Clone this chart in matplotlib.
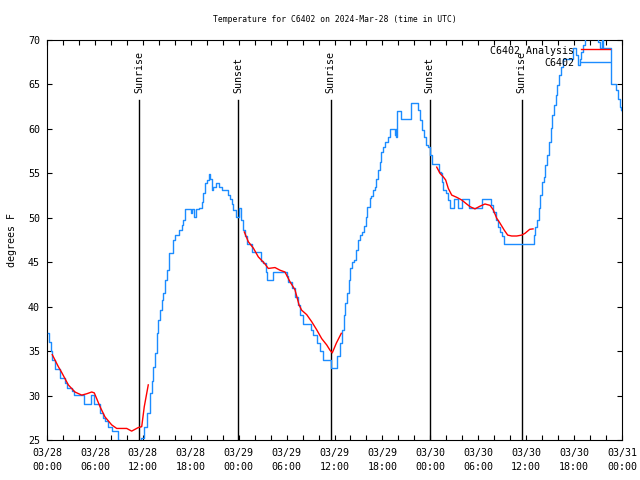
import numpy as np
import matplotlib
matplotlib.use("Agg")
import matplotlib.pyplot as plt
from matplotlib.ticker import MultipleLocator, FixedLocator

# ---- data (hours since 2024-03-28 00:00 UTC) ----
blue_t = [0.16, 0.31, 0.5, 0.66, 1.0, 1.63, 2.25, 2.47, 3.09, 3.42, 4.67, 5.47, 5.89, 6.64, 6.95, 7.26,
          7.64, 8.1, 8.93, 9.14, 9.5, 11.0, 11.6, 11.77, 12.15, 12.48, 12.9, 13.11, 13.31, 13.52, 13.74,
          13.94, 14.15, 14.36, 14.56, 14.77, 14.99, 15.31, 15.82, 16.03, 16.57, 16.87, 16.99, 17.28,
          17.99, 18.2, 18.4, 18.6, 19.07, 19.37, 19.57, 19.78, 20.0, 20.29, 20.41, 20.62, 20.83, 21.16,
          21.58, 21.88, 22.7, 22.92, 23.13, 23.33, 23.63, 24.04, 24.29, 24.58, 24.79, 25.08, 25.71,
          26.8, 27.09, 27.39, 27.59, 28.34, 30.02, 30.22, 30.64, 31.05, 31.39, 31.68, 32.09, 33.06,
          33.35, 33.77, 34.18, 34.6, 35.56, 36.31, 36.65, 36.94, 37.15, 37.35, 37.57, 37.78, 37.98,
          38.19, 38.44, 38.73, 38.94, 39.16, 39.44, 39.69, 39.91, 40.11, 40.41, 40.61, 40.82, 41.03,
          41.23, 41.45, 41.66, 41.86, 42.07, 42.36, 42.7, 42.99, 43.54, 43.66, 43.74, 43.86, 44.37,
          45.62, 46.46, 46.67, 46.96, 47.21, 47.5, 47.75, 47.96, 48.25, 49.09, 49.34, 49.5, 49.62,
          49.92, 50.18, 50.46, 51.0, 51.51, 52.0, 52.88, 54.43, 55.6, 55.88, 56.18, 56.43, 56.72,
          57.01, 57.22, 60.98, 61.14, 61.4, 61.57, 61.77, 61.98, 62.23, 62.4, 62.65, 62.86, 63.07,
          63.27, 63.49, 63.7, 63.9, 64.11, 64.33, 64.61, 65.87, 66.28, 66.49, 66.71, 66.91, 67.12,
          67.33, 68.0, 69.0, 69.2, 69.45, 69.62, 70.59, 71.29, 71.5, 71.71, 71.84, 72.0]
blue_T = [37.0, 36.0, 35.0, 34.0, 33.0, 32.0, 31.4, 30.9, 30.5, 30.1, 29.05, 30.1, 29.05, 28.0, 27.5, 27.1,
          26.5, 26.0, 25.0, 24.5, 24.0, 23.8, 24.5, 25.2, 26.5, 28.0, 30.25, 31.6, 33.25, 34.75, 37.0,
          38.5, 39.6, 40.75, 41.5, 43.0, 44.1, 46.0, 47.5, 48.06, 48.6, 49.2, 49.75, 50.95,
          50.5, 50.95, 50.1, 50.95, 51.1, 51.8, 52.75, 53.9, 54.25, 54.9, 54.4, 53.1, 53.5, 53.95,
          53.5, 53.1, 52.6, 52.1, 51.6, 50.9, 50.1, 51.05, 49.75, 48.6, 47.9, 47.05, 46.1,
          45.1, 44.9, 43.9, 43.0, 43.9, 43.4, 42.8, 42.05, 41.1, 40.2, 39.1, 38.05, 37.4,
          36.8, 35.9, 35.05, 34.0, 33.05, 34.4, 35.9, 37.4, 39.1, 40.4, 41.5, 43.0, 44.3,
          45.05, 45.25, 46.4, 47.5, 48.06, 48.4, 49.1, 50.1, 51.25, 52.2, 52.45, 53.1, 53.5,
          54.4, 55.4, 56.3, 57.4, 58.0, 58.55, 59.05, 59.95, 59.3, 59.95, 59.05, 62.05, 61.1,
          62.95, 62.1, 61.0, 59.9, 59.1, 58.2, 58.0, 57.1, 56.05, 55.2, 55.0, 54.05, 53.1,
          52.75, 52.0, 51.05, 52.1, 51.05, 52.1, 51.05, 52.1, 51.4, 50.7, 49.75, 49.0, 48.4,
          47.9, 47.05, 48.06, 49.0, 49.75, 51.05, 52.55, 54.05, 54.6, 55.9, 57.05, 58.55, 60.05,
          61.55, 62.7, 63.8, 64.9, 66.05, 67.0, 67.9, 69.05, 68.3, 67.2, 67.9, 68.7, 69.4,
          70.5, 71.0, 69.8, 69.05, 70.3, 69.05, 65.0, 64.4, 63.4, 62.5, 62.1, 62.0]

red_t = [0.66, 1.42, 1.84, 2.67, 3.5, 4.35, 4.97, 5.6, 5.92, 6.64, 7.26, 8.1, 8.73, 9.98, 10.6, 11.43,
         11.86, 12.18, 12.68, np.nan,
         24.71, 25.21, 25.83, 26.46, 27.3, 27.71, 28.55, 29.18, 29.8, 30.43, 31.05, 31.56, 31.89,
         32.52, 33.15, 33.77, 34.4, 35.02, 35.44, 35.72, 36.23, 36.85, np.nan,
         48.8, 49.21, 49.62, 49.92, 50.25, 50.68, 51.31, 51.93, 52.34, 52.97, 53.59, 54.21, 54.84,
         55.47, 55.88, 56.31, 56.72, 57.26, 57.69, 58.19, 58.82, 59.44, 59.85, 60.44, 60.86]
red_T = [34.6, 33.25, 32.6, 31.2, 30.4, 30.05, 30.2, 30.4, 30.3, 28.75, 27.6, 26.7, 26.3, 26.3, 26.0, 26.4,
         26.5, 28.75, 31.2, np.nan,
         48.4, 47.3, 46.6, 45.6, 44.8, 44.3, 44.4, 44.1, 43.9, 42.8, 41.9, 40.2, 39.6,
         39.1, 38.3, 37.4, 36.4, 35.7, 35.1, 34.8, 35.9, 37.0, np.nan,
         55.7, 55.0, 54.6, 54.25, 53.3, 52.55, 52.3, 52.0, 51.7, 51.25, 51.0, 51.3, 51.55,
         51.4, 50.9, 49.95, 49.4, 48.6, 48.05, 47.95, 47.95, 48.05, 48.25, 48.7, 48.75]

sun_t = [11.55, 23.95, 35.5, 47.9, 59.45]
sun_lbl = ["Sunrise", "Sunset", "Sunrise", "Sunset", "Sunrise"]

xtick_labels = ["03/28\n00:00", "03/28\n06:00", "03/28\n12:00", "03/28\n18:00", "03/29\n00:00",
                "03/29\n06:00", "03/29\n12:00", "03/29\n18:00", "03/30\n00:00", "03/30\n06:00",
                "03/30\n12:00", "03/30\n18:00", "03/31\n00:00"]

BLUE = "#1C8CFF"
RED = "#FF0000"
FONT = "DejaVu Sans Mono"

fig = plt.figure(figsize=(6.4, 4.8), dpi=100)
ax = fig.add_axes([47/640, 40/480, 575/640, 400/480])

ax.plot(blue_t, blue_T, color=BLUE, lw=1.0, drawstyle="steps-post", zorder=3)
ax.plot(red_t, red_T, color=RED, lw=1.0, zorder=4)

for t, lab in zip(sun_t, sun_lbl):
    ax.plot([t, t], [25, 63.25], color="black", lw=1.0, zorder=2)
    ax.text(t, 64.0, lab, rotation=90, ha="center", va="bottom", fontsize=7.2,
            family=FONT, zorder=5)

ax.set_xlim(0, 72)
ax.set_ylim(25, 70)
ax.xaxis.set_major_locator(FixedLocator(np.arange(0, 73, 6)))
ax.set_xticklabels(xtick_labels, family=FONT, fontsize=7.2, linespacing=1.5)
ax.xaxis.set_minor_locator(MultipleLocator(2))
ax.yaxis.set_major_locator(MultipleLocator(5))
for lab in ax.get_yticklabels():
    lab.set_family(FONT)
    lab.set_fontsize(7.2)
ax.tick_params(axis="both", which="both", direction="in", top=True, right=True,
               length=3.5, width=0.8, color="black")
ax.tick_params(axis="x", which="major", pad=6)
ax.tick_params(axis="y", which="major", pad=5)
for s in ax.spines.values():
    s.set_linewidth(0.8)

# legend (gnuplot style, no box)
ax.text(0.9165, 0.973, "C6402 Analysis", transform=ax.transAxes, ha="right", va="center",
        fontsize=7.2, family=FONT, zorder=6)
ax.text(0.9165, 0.942, "C6402", transform=ax.transAxes, ha="right", va="center",
        fontsize=7.2, family=FONT, zorder=6)
ax.plot([0.9287, 0.979], [0.977, 0.977], color=RED, lw=1.0, transform=ax.transAxes, zorder=6)
ax.plot([0.9287, 0.979], [0.944, 0.944], color=BLUE, lw=1.0, transform=ax.transAxes, zorder=6)

fig.text(335/640, 1 - 19/480, "Temperature for C6402 on 2024-Mar-28 (time in UTC)",
         ha="center", va="center", fontsize=5.8, family=FONT)
fig.text(12/640, 0.5, "degrees F", rotation=90, ha="center", va="center",
         fontsize=7.2, family=FONT)

fig.savefig("out.png", dpi=100)
